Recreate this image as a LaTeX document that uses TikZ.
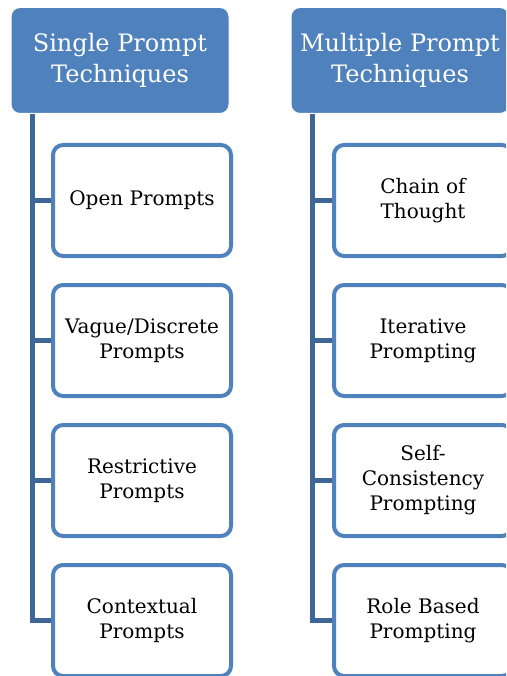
\documentclass[tikz,border=0pt]{standalone}
\usepackage{fontspec}
\setmainfont{DejaVu Serif}
\pgfdeclarelayer{background}
\pgfsetlayers{background,main}
\begin{document}
\begin{tikzpicture}[x=1pt,y=-1pt,
  hdrbox/.style={fill=hdrblue, draw=white, line width=1pt, rounded corners=9pt,
    minimum width=218pt, minimum height=106pt, inner sep=0pt, align=center,
    text=white, font=\fontsize{24}{31}\selectfont},
  itembox/.style={draw=hdrblue, fill=white, line width=4pt, rounded corners=10pt,
    minimum width=178pt, minimum height=111pt, inner sep=0pt, align=center,
    font=\fontsize{20}{25}\selectfont},
  spine/.style={draw=spineblue, line width=5pt}]
\definecolor{hdrblue}{HTML}{4F81BD}
\definecolor{spineblue}{HTML}{3F6796}
\clip (0,0) rectangle (506,676);
\useasboundingbox (0,0) rectangle (506,676);

% column headers
\node[hdrbox] (hL) at (120,60.5) {Single Prompt\\Techniques};
\node[hdrbox] (hR) at (400,60.5) {Multiple Prompt\\Techniques};

% trunk start points under the headers
\coordinate (sL) at (32,113);
\coordinate (sR) at (312,113);

% single prompt items
\node[itembox] (a1) at (142,200.5) {Open Prompts};
\node[itembox] (a2) at (142,340.5) {Vague/Discrete\\Prompts};
\node[itembox] (a3) at (142,480.5) {Restrictive\\Prompts};
\node[itembox] (a4) at (142,620.5) {Contextual\\Prompts};

% multiple prompt items
\node[itembox] (b1) at (423,200.5) {Chain of\\Thought};
\node[itembox] (b2) at (423,340.5) {Iterative\\Prompting};
\node[itembox] (b3) at (423,480.5) {Self-\\Consistency\\Prompting};
\node[itembox] (b4) at (423,620.5) {Role Based\\Prompting};

% connectors run behind the boxes
\begin{pgfonlayer}{background}
\foreach \n in {a1,a2,a3,a4}{\draw[spine] (sL) |- (\n.center);}
\foreach \n in {b1,b2,b3,b4}{\draw[spine] (sR) |- (\n.center);}
\end{pgfonlayer}
\end{tikzpicture}
\end{document}
